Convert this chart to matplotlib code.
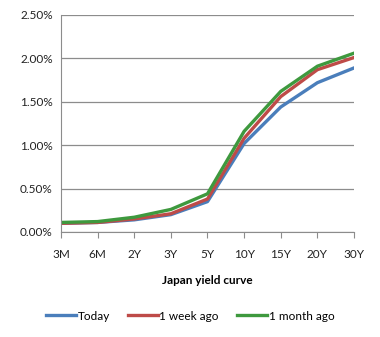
import matplotlib.pyplot as plt
from matplotlib.ticker import FuncFormatter

# dati della curva dei rendimenti
maturities = ["3M", "6M", "2Y", "3Y", "5Y", "10Y", "15Y", "20Y", "30Y"]
today = [0.10, 0.11, 0.14, 0.20, 0.35, 1.02, 1.44, 1.72, 1.89]
week_ago = [0.10, 0.11, 0.15, 0.21, 0.38, 1.08, 1.56, 1.87, 2.01]
month_ago = [0.11, 0.12, 0.17, 0.26, 0.44, 1.16, 1.62, 1.91, 2.06]

plt.rcParams['font.family'] = ['Lato', 'DejaVu Sans']

fig = plt.figure(figsize=(3.8, 3.37), dpi=100)
ax = fig.add_axes([0.1605, 0.3116, 0.7711, 0.6439])

x = range(len(maturities))
ax.plot(x, today, color="#4A7EBB", lw=2.4, label="Today")
ax.plot(x, week_ago, color="#BE4B48", lw=2.4, label="1 week ago")
ax.plot(x, month_ago, color="#3E993E", lw=2.4, label="1 month ago")

ax.set_xlim(0, len(maturities) - 1)
ax.set_ylim(0, 2.5)
ax.set_yticks([0, 0.5, 1.0, 1.5, 2.0, 2.5])
ax.yaxis.set_major_formatter(FuncFormatter(lambda v, p: "%.2f%%" % v))
ax.set_xticks(list(x))
ax.set_xticklabels(maturities)

ax.grid(axis="y", color="#8C8C8C", lw=0.9)
ax.set_axisbelow(True)
for s in ["top", "right"]:
    ax.spines[s].set_visible(False)
ax.spines["left"].set_color("#8C8C8C")
ax.spines["bottom"].set_color("#8C8C8C")
ax.tick_params(axis="y", length=0, pad=6, labelsize=8.5, colors="#222222")
ax.tick_params(axis="x", length=4, color="#8C8C8C", pad=8, labelsize=8.5, labelcolor="#222222")

ax.set_xlabel("Japan yield curve", fontsize=8.5, fontweight="bold", labelpad=11)

ax.legend(loc="center", bbox_to_anchor=(0.5, 0.062), bbox_transform=fig.transFigure,
          ncol=3, frameon=False, fontsize=8.5, handlelength=2.6, handletextpad=0.1,
          columnspacing=1.5)

plt.savefig("out.png", dpi=100)
